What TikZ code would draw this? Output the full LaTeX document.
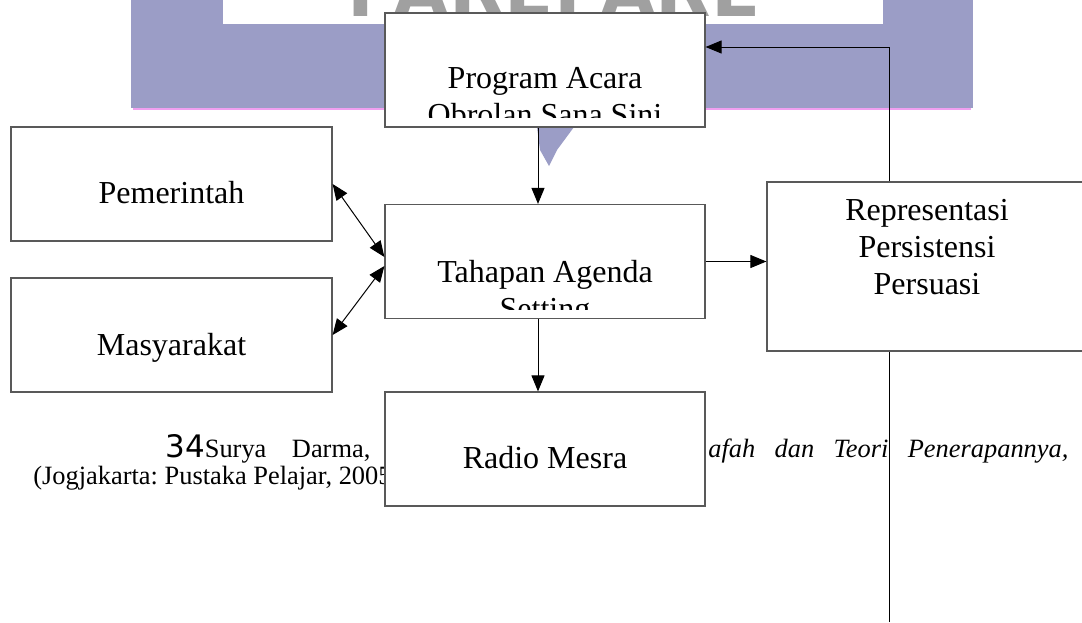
\documentclass[tikz,border=0pt]{standalone}
\usepackage{fontspec}
\setmainfont{Liberation Serif}
\newfontfamily\angka{DejaVu Sans}
\usetikzlibrary{arrows.meta,calc}
\definecolor{ungu}{RGB}{155,157,198}
\definecolor{merahmuda}{RGB}{240,160,240}
\definecolor{abu}{RGB}{160,160,160}
\frenchspacing

\begin{document}
\begin{tikzpicture}[x=0.5pt, y=-0.5pt,
  kotak/.style={draw=black!65, fill=white, line width=0.6pt, minimum width=160pt, minimum height=57pt, inner sep=0pt},
  isi/.style={font=\fontsize{16}{18.5}\selectfont, align=center, anchor=base, inner sep=0pt},
  catatan/.style={font=\fontsize{13.2}{16}\selectfont, anchor=base west, inner sep=0pt},
  panah/.style={-{Triangle[length=8pt,width=6.5pt]}, line width=0.5pt},
  panahdua/.style={{Triangle[length=8pt,width=6.5pt]}-{Triangle[length=8pt,width=6.5pt]}, line width=0.5pt}]
\useasboundingbox (0,0) rectangle (1082,622);
% watermark
\fill[ungu] (131,0) rectangle (973,108);
\fill[white] (223,0) rectangle (883,24);
\draw[merahmuda, line width=1pt] (133,109) -- (971,109);
\begin{scope}
\clip (223,0) rectangle (883,24);
\node[anchor=base, inner sep=0pt, text=abu, font=\angka\bfseries\fontsize{36}{36}\selectfont] (wm) at (554,16) {PAREPARE};
\end{scope}
\fill[ungu] (537,127) -- (574,127) -- (557,150) -- (549,166) -- (540,150) -- cycle;
% catatan kaki
\node[catatan] (fn1) at (165,457) {\hbox to 102.5pt{{\angka\fontsize{15.5}{16}\selectfont 34}Surya\hfill Darma,}};
\node[catatan] (fn2) at (708,457) {\hbox to 180pt{\itshape afah\hfill dan\hfill Teori\hfill Penerapannya,}};
\node[catatan] (fn3) at (33,484) {(Jogjakarta: Pustaka Pelajar, 2005)};
\coordinate (bawah) at (889,622);
% kotak
\node[kotak] (program) at (545,70) {};
\node[kotak] (agenda) at (545,261.5) {};
\node[kotak] (radio) at (545,449) {};
\node[kotak, minimum width=160.5pt] (pemerintah) at (171.5,184) {};
\node[kotak, minimum width=160.5pt] (masyarakat) at (171.5,335) {};
\draw[panah] (bawah) |- ([yshift=11.5pt]program.east);
\node[kotak, minimum height=84.5pt] (representasi) at (927,266.5) {};
\begin{scope}
\clip (386,14) rectangle (704,117);
\node[isi] (tprogram) at (545,125) {Program Acara\\Obrolan Sana Sini};
\end{scope}
\begin{scope}
\clip (386,206) rectangle (704,309);
\node[isi] (tagenda) at (545,319) {Tahapan Agenda\\Setting};
\end{scope}
\node[isi] (tradio) at (545,468) {Radio Mesra};
\node[isi] (tpemerintah) at (171.5,203) {Pemerintah};
\node[isi] (tmasyarakat) at (171.5,355) {Masyarakat};
\node[isi] (trepresentasi) at (927,294) {Representasi\\Persistensi\\Persuasi};
% panah
\draw[panah] ([xshift=-3.5pt]program.south) -- ([xshift=-3.5pt]agenda.north);
\draw[panah] ([xshift=-3.5pt]agenda.south) -- ([xshift=-3.5pt]radio.north);
\draw[panah] (agenda.east) -- (agenda.east -| representasi.west);
\draw[panahdua] (pemerintah.east) -- ([yshift=2.25pt]agenda.west);
\draw[panahdua] (masyarakat.east) -- ([yshift=-2.25pt]agenda.west);
\end{tikzpicture}
\end{document}
